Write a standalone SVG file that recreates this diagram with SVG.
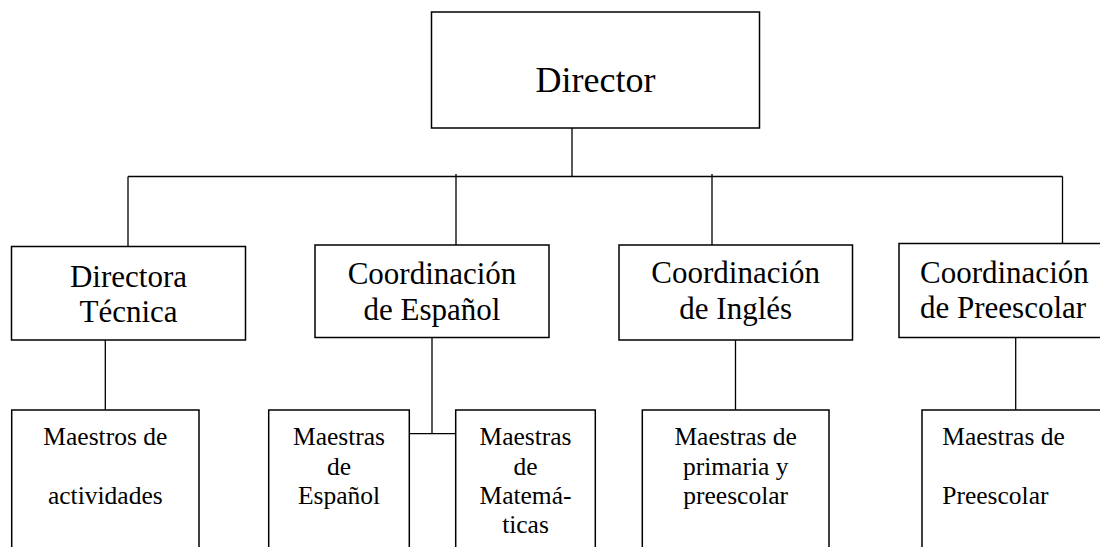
<svg xmlns="http://www.w3.org/2000/svg" width="1100" height="547" viewBox="0 0 1100 547" font-family="'Liberation Serif', 'DejaVu Serif', serif">
<style>
.box{fill:#fff;stroke:#000;stroke-width:1.5}
.ln{stroke:#000;stroke-width:1.3;fill:none}
text{font-family:'Liberation Serif','DejaVu Serif',serif;fill:#000}
.t1{font-size:36px;text-anchor:middle}
.t2{font-size:31px;text-anchor:middle}
.t3{font-size:25.5px;text-anchor:middle}
.s{text-anchor:start}
</style>
<rect width="1100" height="547" fill="#fff"/>
<g id="connectors">
<path class="ln" d="M572,128 V176.5 M128,176.5 H1062.5 M128,176.5 V246.5 M456,174 V245 M712,174 V245 M1062.5,176.5 V247"/>
<path class="ln" d="M105.3,340 V410 M432,337.5 V433.7 M409.3,433.7 H455.7 M735.5,340 V410 M1015.7,337.5 V410"/>
</g>
<g id="director">
<rect class="box" x="431.5" y="12" width="328" height="116"/>
<text class="t1" x="595.5" y="92">Director</text>
</g>
<g id="directora-tecnica">
<rect class="box" x="11.5" y="246.5" width="234" height="93.5"/>
<text class="t2" x="128.5" y="286.5">Directora</text>
<text class="t2" x="128.5" y="321.5">Técnica</text>
</g>
<g id="coord-espanol">
<rect class="box" x="315" y="245" width="234" height="92.5"/>
<text class="t2" x="432" y="283.5">Coordinación</text>
<text class="t2" x="432" y="320">de Español</text>
</g>
<g id="coord-ingles">
<rect class="box" x="619" y="245" width="233.5" height="95"/>
<text class="t2" x="735.7" y="282.7">Coordinación</text>
<text class="t2" x="735.7" y="319.3">de Inglés</text>
</g>
<g id="coord-preescolar">
<rect class="box" x="899" y="243.5" width="215" height="94"/>
<text class="t2 s" x="920" y="282.7">Coordinación</text>
<text class="t2 s" x="920" y="318.3">de Preescolar</text>
</g>
<g id="maestros-actividades">
<rect class="box" x="11.7" y="410" width="187.3" height="160"/>
<text class="t3" x="105.3" y="445">Maestros de</text>
<text class="t3" x="105.3" y="504">actividades</text>
</g>
<g id="maestras-espanol">
<rect class="box" x="268.7" y="410" width="140.6" height="160"/>
<text class="t3" x="339" y="445">Maestras</text>
<text class="t3" x="339" y="475">de</text>
<text class="t3" x="339" y="504">Español</text>
</g>
<g id="maestras-matematicas">
<rect class="box" x="455.7" y="410" width="139.6" height="160"/>
<text class="t3" x="525.5" y="445">Maestras</text>
<text class="t3" x="525.5" y="475">de</text>
<text class="t3" x="525.5" y="504">Matemá-</text>
<text class="t3" x="525.5" y="533">ticas</text>
</g>
<g id="maestras-primaria">
<rect class="box" x="642.3" y="410" width="186.7" height="160"/>
<text class="t3" x="735.7" y="445">Maestras de</text>
<text class="t3" x="735.7" y="475">primaria y</text>
<text class="t3" x="735.7" y="504">preescolar</text>
</g>
<g id="maestras-preescolar">
<rect class="box" x="922" y="410" width="200" height="160"/>
<text class="t3 s" x="942.3" y="445">Maestras de</text>
<text class="t3 s" x="942.3" y="504">Preescolar</text>
</g>
</svg>
